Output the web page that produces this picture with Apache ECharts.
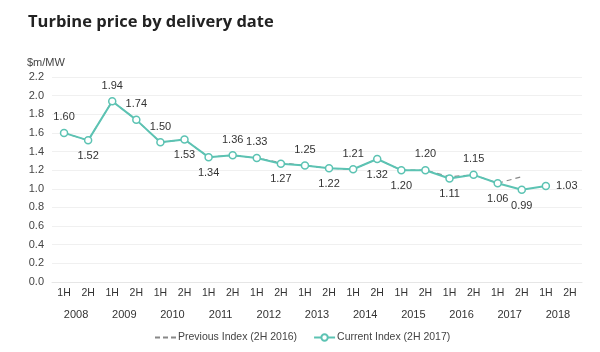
<!DOCTYPE html>
<html>
<head>
<meta charset="utf-8">
<title>Turbine price by delivery date</title>
<script src="https://cdn.jsdelivr.net/npm/echarts@6/dist/echarts.min.js"></script>
<style>
    html, body { margin: 0; padding: 0; background: #fff; }
    #main { width: 600px; height: 352px; }
</style>
</head>
<body>
<div id="main"></div>
<script>
// 数据
var halves = ['1H','2H','1H','2H','1H','2H','1H','2H','1H','2H','1H','2H','1H','2H','1H','2H','1H','2H','1H','2H','1H','2H'];
var years = ['2008','2009','2010','2011','2012','2013','2014','2015','2016','2017','2018'];
var currentIndex = [1.60, 1.52, 1.94, 1.74, 1.50, 1.53, 1.34, 1.36, 1.33, 1.27, 1.25, 1.22, 1.21, 1.32, 1.20, 1.20, 1.11, 1.15, 1.06, 0.99, 1.03, null];
var previousIndex = [1.60, 1.52, 1.94, 1.74, 1.50, 1.53, 1.34, 1.36, 1.33, 1.28, 1.25, 1.22, 1.21, 1.32, 1.20, 1.20, 1.13, 1.15, 1.06, 1.13, null, null];
var yTicks = [0, 2.2, 0.2];
// 标签位置
var labelPos = ['top','bottom','top','top','top','bottom','bottom','top','top','bottom','top','bottom','top','bottom','bottom','top','bottom','top','bottom','bottom','right'];

var teal = '#5cc3b3';
var font = 'Liberation Sans';

var curData = currentIndex.map(function(v, i){
    if(v === null) return null;
    return { value: v, label: { position: labelPos[i] } };
});

var myChart = echarts.init(document.getElementById('main'));
var option = {
    animation: false,
    textStyle: { fontFamily: font },
    title: {
        text: 'Turbine price by delivery date',
        left: 23,
        top: 9,
        textStyle: { fontFamily: 'Open Sans', fontWeight: 'bold', fontSize: 16.5, color: '#222' }
    },
    graphic: [{
        type: 'text',
        left: 27,
        top: 57,
        style: { text: '$m/MW', fontFamily: font, fontSize: 11, fill: '#444' }
    }],
    legend: {
        bottom: 4,
        left: 150,
        itemGap: 16,
        itemWidth: 21,
        itemHeight: 8,
        textStyle: { fontSize: 10.5, color: '#444', fontFamily: font, padding: [0, 0, 0, -3] },
        data: [
            { name: 'Previous Index (2H 2016)', icon: 'path://M0,4 L5,4 L5,6 L0,6 Z M8,4 L13,4 L13,6 L8,6 Z M16,4 L21,4 L21,6 L16,6 Z', itemStyle: { color: '#888' } },
            { name: 'Current Index (2H 2017)' }
        ]
    },
    grid: { left: 52, right: 18, top: 77, bottom: 70 },
    xAxis: [{
        type: 'category',
        data: halves,
        axisLine: { lineStyle: { color: '#e6e6e6' } },
        axisTick: { length: 40, lineStyle: { color: '#ececec' } },
        axisLabel: { color: '#333', fontSize: 10.5, margin: 6 }
    }, {
        type: 'category',
        data: years,
        position: 'bottom',
        offset: 20,
        axisLine: { show: false },
        axisTick: { show: false },
        axisLabel: { color: '#333', fontSize: 11, margin: 7 }
    }],
    yAxis: {
        type: 'value',
        min: yTicks[0],
        max: yTicks[1],
        interval: yTicks[2],
        axisLine: { show: false },
        axisTick: { show: false },
        splitLine: { lineStyle: { color: '#f0f0f0' } },
        axisLabel: {
            color: '#444',
            fontSize: 11,
            margin: 8,
            formatter: function(v){ return v.toFixed(1); }
        }
    },
    series: [{
        name: 'Previous Index (2H 2016)',
        type: 'line',
        data: previousIndex,
        xAxisIndex: 0,
        showSymbol: false,
        symbol: 'none',
        color: '#888',
        lineStyle: { type: [5, 4], width: 1.2, color: '#888' }
    }, {
        name: 'Current Index (2H 2017)',
        type: 'line',
        data: curData,
        xAxisIndex: 0,
        symbol: 'circle',
        symbolSize: 7,
        color: teal,
        itemStyle: { color: '#fff', borderColor: teal, borderWidth: 1.5 },
        lineStyle: { width: 2, color: teal },
        label: {
            show: true,
            fontSize: 11,
            color: '#333',
            distance: 6,
            formatter: function(p){ return p.value.toFixed(2); }
        }
    }]
};
myChart.setOption(option);
</script>
</body>
</html>
